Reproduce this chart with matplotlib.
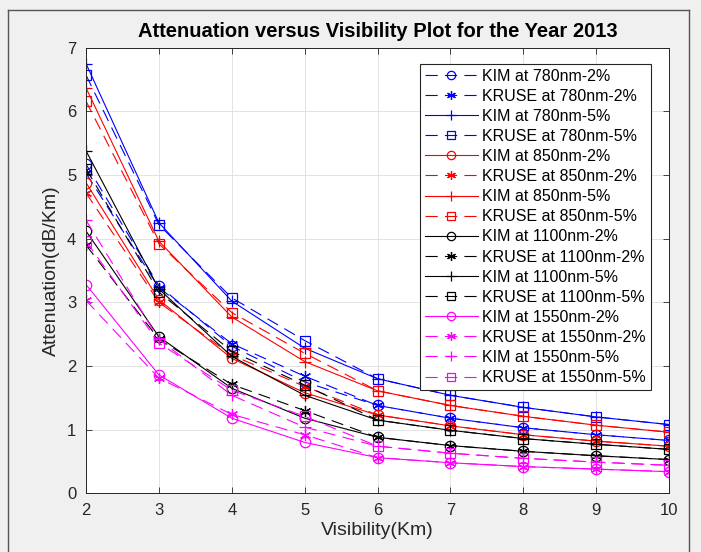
import matplotlib
matplotlib.use('Agg')
import matplotlib.pyplot as plt
from matplotlib.lines import Line2D

plt.rcParams.update({
    'font.family': ['Liberation Sans', 'DejaVu Sans'],
    'figure.facecolor': '#f0f0f0',
    'axes.facecolor': 'white',
    'axes.edgecolor': '#262626',
    'axes.linewidth': 0.7,
    'xtick.color': '#262626',
    'ytick.color': '#262626',
    'xtick.direction': 'in',
    'ytick.direction': 'in',
    'xtick.top': True,
    'ytick.right': True,
})

# -- data (attenuation in dB/Km) --
visibility = [2, 3, 4, 5, 6, 7, 8, 9, 10]

kim_780_2   = [5.17, 3.26, 2.31, 1.75, 1.38, 1.18, 1.03, 0.92, 0.83]
kruse_780_2 = [5.03, 3.23, 2.35, 1.84, 1.38, 1.18, 1.03, 0.92, 0.83]
kim_780_5   = [6.75, 4.25, 3.02, 2.28, 1.80, 1.54, 1.35, 1.20, 1.08]
kruse_780_5 = [6.57, 4.22, 3.07, 2.40, 1.80, 1.54, 1.35, 1.20, 1.08]

kim_850_2   = [4.88, 3.04, 2.12, 1.58, 1.23, 1.06, 0.92, 0.82, 0.74]
kruse_850_2 = [4.72, 3.00, 2.17, 1.68, 1.23, 1.06, 0.92, 0.82, 0.74]
kim_850_5   = [6.37, 3.96, 2.77, 2.07, 1.61, 1.38, 1.21, 1.07, 0.96]
kruse_850_5 = [6.16, 3.92, 2.84, 2.20, 1.61, 1.38, 1.21, 1.07, 0.96]

kim_1100_2   = [4.12, 2.46, 1.65, 1.18, 0.88, 0.75, 0.66, 0.59, 0.53]
kruse_1100_2 = [3.90, 2.42, 1.71, 1.30, 0.88, 0.75, 0.66, 0.59, 0.53]
kim_1100_5   = [5.38, 3.21, 2.15, 1.54, 1.15, 0.99, 0.86, 0.77, 0.69]
kruse_1100_5 = [5.10, 3.16, 2.23, 1.70, 1.15, 0.99, 0.86, 0.77, 0.69]

kim_1550_2   = [3.28, 1.86, 1.18, 0.80, 0.56, 0.48, 0.42, 0.38, 0.34]
kruse_1550_2 = [3.03, 1.81, 1.24, 0.92, 0.56, 0.48, 0.42, 0.38, 0.34]
kim_1550_5   = [4.29, 2.42, 1.54, 1.04, 0.74, 0.63, 0.55, 0.49, 0.44]
kruse_1550_5 = [3.96, 2.36, 1.62, 1.21, 0.74, 0.63, 0.55, 0.49, 0.44]

labels = [
    'KIM at 780nm-2%', 'KRUSE at 780nm-2%', 'KIM at 780nm-5%', 'KRUSE at 780nm-5%',
    'KIM at 850nm-2%', 'KRUSE at 850nm-2%', 'KIM at 850nm-5%', 'KRUSE at 850nm-5%',
    'KIM at 1100nm-2%', 'KRUSE at 1100nm-2%', 'KIM at 1100nm-5%', 'KRUSE at 1100nm-5%',
    'KIM at 1550nm-2%', 'KRUSE at 1550nm-2%', 'KIM at 1550nm-5%', 'KRUSE at 1550nm-5%',
]
series = [
    kim_780_2, kruse_780_2, kim_780_5, kruse_780_5,
    kim_850_2, kruse_850_2, kim_850_5, kruse_850_5,
    kim_1100_2, kruse_1100_2, kim_1100_5, kruse_1100_5,
    kim_1550_2, kruse_1550_2, kim_1550_5, kruse_1550_5,
]

# style per series: colour, line style, marker
ASTER = (6, 2, 0)
styles = [
    ('#0000ff', '--', 'o'), ('#0000ff', '--', ASTER), ('#0000ff', '-', '+'), ('#0000ff', '--', 's'),
    ('#ff0000', '-', 'o'),  ('#ff0000', '--', ASTER), ('#ff0000', '-', '+'), ('#ff0000', '--', 's'),
    ('#000000', '-', 'o'),  ('#000000', '--', ASTER), ('#000000', '-', '+'), ('#000000', '--', 's'),
    ('#ff00ff', '-', 'o'),  ('#ff00ff', '--', ASTER), ('#ff00ff', '--', '+'), ('#ff00ff', '--', 's'),
]
MSIZE = {'o': 7.5, '+': 9, 's': 6.5}
DASH = (11, 6.5)

fig = plt.figure(figsize=(7.01, 5.52), dpi=100)
ax = fig.add_axes([0.1227, 0.1063, 0.8317, 0.8073])

for vals, lab, (col, ls, mk) in zip(series, labels, styles):
    ms = MSIZE.get(mk, 8) if isinstance(mk, str) else 8
    ln, = ax.plot(visibility, vals, color=col, ls=ls, lw=0.8, marker=mk,
                  markersize=ms, markerfacecolor='none', markeredgecolor=col,
                  markeredgewidth=0.9, label=lab)
    if ls == '--':
        ln.set_dashes(DASH)

ax.set_xlim(2, 10)
ax.set_ylim(0, 7)
ax.set_xticks(range(2, 11))
ax.set_yticks(range(0, 8))
ax.tick_params(labelsize=12, length=4, width=0.6, pad=7)
ax.grid(True, color='#dedede', lw=0.6)
ax.set_axisbelow(True)

ax.set_xlabel('Visibility(Km)', fontsize=14, color='#262626', labelpad=3)
ax.set_ylabel('Attenuation(dB/Km)', fontsize=14, color='#262626', labelpad=5)
ax.set_title('Attenuation versus Visibility Plot for the Year 2013',
             fontsize=14.5, fontweight='bold', color='#000000', pad=8)

leg = ax.legend(loc='upper right', bbox_to_anchor=(0.969, 0.964), borderaxespad=0,
                fontsize=11.5, handlelength=3.3, handletextpad=0.3,
                labelspacing=0.32, borderpad=0.3, fancybox=False,
                framealpha=1, edgecolor='#262626', markerscale=0.8)
leg.get_frame().set_linewidth(0.8)
for h in leg.get_lines():
    if h.get_linestyle() == '--':
        h.set_dashes(DASH)

# outer window border
W, H = 701.0, 552.0
x0, x1, y0 = 7.5 / W, 688.5 / W, 1 - 9.5 / H
for xs, ys in [([x0, x1], [y0, y0]), ([x0, x0], [0, y0]), ([x1, x1], [0, y0])]:
    fig.add_artist(Line2D(xs, ys, color='#555555', lw=1.0, transform=fig.transFigure))

fig.savefig('out.png', dpi=100, facecolor='#f0f0f0')
